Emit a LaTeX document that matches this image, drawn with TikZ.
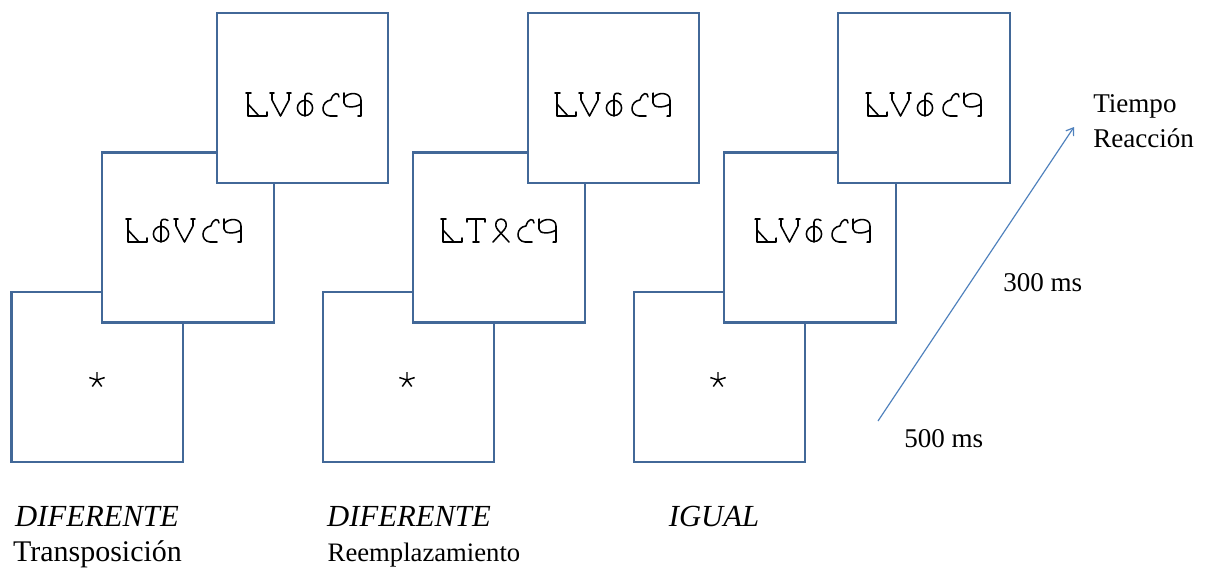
\documentclass[tikz,border=0pt]{standalone}
\usepackage{fontspec}
\setmainfont{Liberation Serif}
\usetikzlibrary{arrows.meta}
\definecolor{frameblue}{RGB}{66,104,152}
\definecolor{arrowblue}{RGB}{79,129,189}

\tikzset{
  card/.style={draw=frameblue, line width=1.6pt, fill=white,
    minimum width=128.6pt, minimum height=127.5pt, inner sep=0pt, outer sep=0pt},
  gl/.style={line width=1.15pt, line cap=round, line join=round, black},
  lbl/.style={inner sep=0pt, anchor=base, font=\fontsize{23}{27}\selectfont},
  side/.style={inner sep=0pt, anchor=base west, font=\fontsize{20.3}{24}\selectfont},
  % pseudo-letters, drawn in a 20 x 23 cell (y grows downwards)
  gL/.pic={\draw[gl] (-2,0)--(3,0) (0,0)--(0,23)--(19,23)--(19,19) (0,11)--(11,23);},
  gV/.pic={\draw[gl] (-2,0)--(2,0) (15,0)--(19,0) (0,0)--(0,7)--(8.5,23)--(17,7)--(17,0);},
  gPhi/.pic={\draw[gl] (9,23)--(9,3) .. controls (9,0) and (13,-0.5) .. (16,1.5);
             \draw[gl] (9,15) circle[radius=5.7pt];},
  gS/.pic={\draw[gl] (19,4) .. controls (19,-1) and (13,-1) .. (11,7)
             .. controls (1,8) and (0,22) .. (10,23) -- (17,23);},
  gQ/.pic={\draw[gl] (0,0)--(0,10) .. controls (0,15) and (11,15) .. (17,11);
           \draw[gl] (1,4) .. controls (5,-1) and (17,-1) .. (17,7) -- (17,23) -- (14,23);},
  gT/.pic={\draw[gl] (0,3)--(0,0)--(18,0)--(18,3) (9,0)--(9,23) (6,23)--(12,23);},
  gX/.pic={\draw[gl] (2,23) -- (13,11) .. controls (18,5) and (14,0) .. (10,0)
             .. controls (6,0) and (2,5) .. (7,11) -- (18,23);},
  star/.pic={\draw[line width=1.1pt, black] (0,0)--(270:8) (0,0)--(198:8) (0,0)--(342:8)
             (0,0)--(126:8) (0,0)--(54:8);},
}

\newcommand{\glyphword}[6]{%
  \begin{scope}[shift={#1}]
    \pic at (0,0) {#2}; \pic at (24,0) {#3}; \pic at (48,0) {#4};
    \pic at (72,0) {#5}; \pic at (96,0) {#6};
  \end{scope}}

\begin{document}
\begin{tikzpicture}[x=0.75pt, y=-0.75pt]
  \fill[white] (0,0) rectangle (1209,569);
  \useasboundingbox (0,0) rectangle (1209,569);

  % first sequence: transposition
  \node[card] (a1) at (97.2,377) {};
  \node[card] (a2) at (187.9,237.5) {};
  \node[card] (a3) at (302.4,98) {};
  \pic at (97,380) {star};
  \glyphword{(128,219)}{gL}{gPhi}{gV}{gS}{gQ}
  \glyphword{(248,93)}{gL}{gV}{gPhi}{gS}{gQ}

  % second sequence: replacement
  \node[card] (b1) at (408.5,377) {};
  \node[card] (b2) at (499,237.5) {};
  \node[card] (b3) at (613.5,98) {};
  \pic at (407,380) {star};
  \glyphword{(443,219)}{gL}{gT}{gX}{gS}{gQ}
  \glyphword{(557,93)}{gL}{gV}{gPhi}{gS}{gQ}

  % third sequence: same
  \node[card] (c1) at (719.5,377) {};
  \node[card] (c2) at (810,237.5) {};
  \node[card] (c3) at (924,98) {};
  \pic at (718,380) {star};
  \glyphword{(757,219)}{gL}{gV}{gPhi}{gS}{gQ}
  \glyphword{(868,93)}{gL}{gV}{gPhi}{gS}{gQ}

  % time axis
  \coordinate (tStart) at (878,421);
  \coordinate (tEnd) at (1074,127);
  \draw[arrowblue, line width=0.9pt, -{Straight Barb[length=5pt,width=7pt]}] (tStart) -- (tEnd);
  \node[side] (t500) at (904,447) {500 ms};
  \node[side] (t300) at (1003,291) {300 ms};
  \node[side] (tr1) at (1093,112) {Tiempo};
  \node[side] (tr2) at (1093,147) {Reacción};

  % condition labels
  \node[lbl] (la1) at (97,526) {\itshape DIFERENTE};
  \node[lbl, font=\fontsize{22.5}{27}\selectfont] (la2) at (97.5,561) {Transposición};
  \node[lbl] (lb1) at (409,526) {\itshape DIFERENTE};
  \node[lbl, font=\fontsize{20}{24}\selectfont] (lb2) at (424,561) {Reemplazamiento};
  \node[lbl] (lc1) at (714,526) {\itshape IGUAL};
\end{tikzpicture}
\end{document}
